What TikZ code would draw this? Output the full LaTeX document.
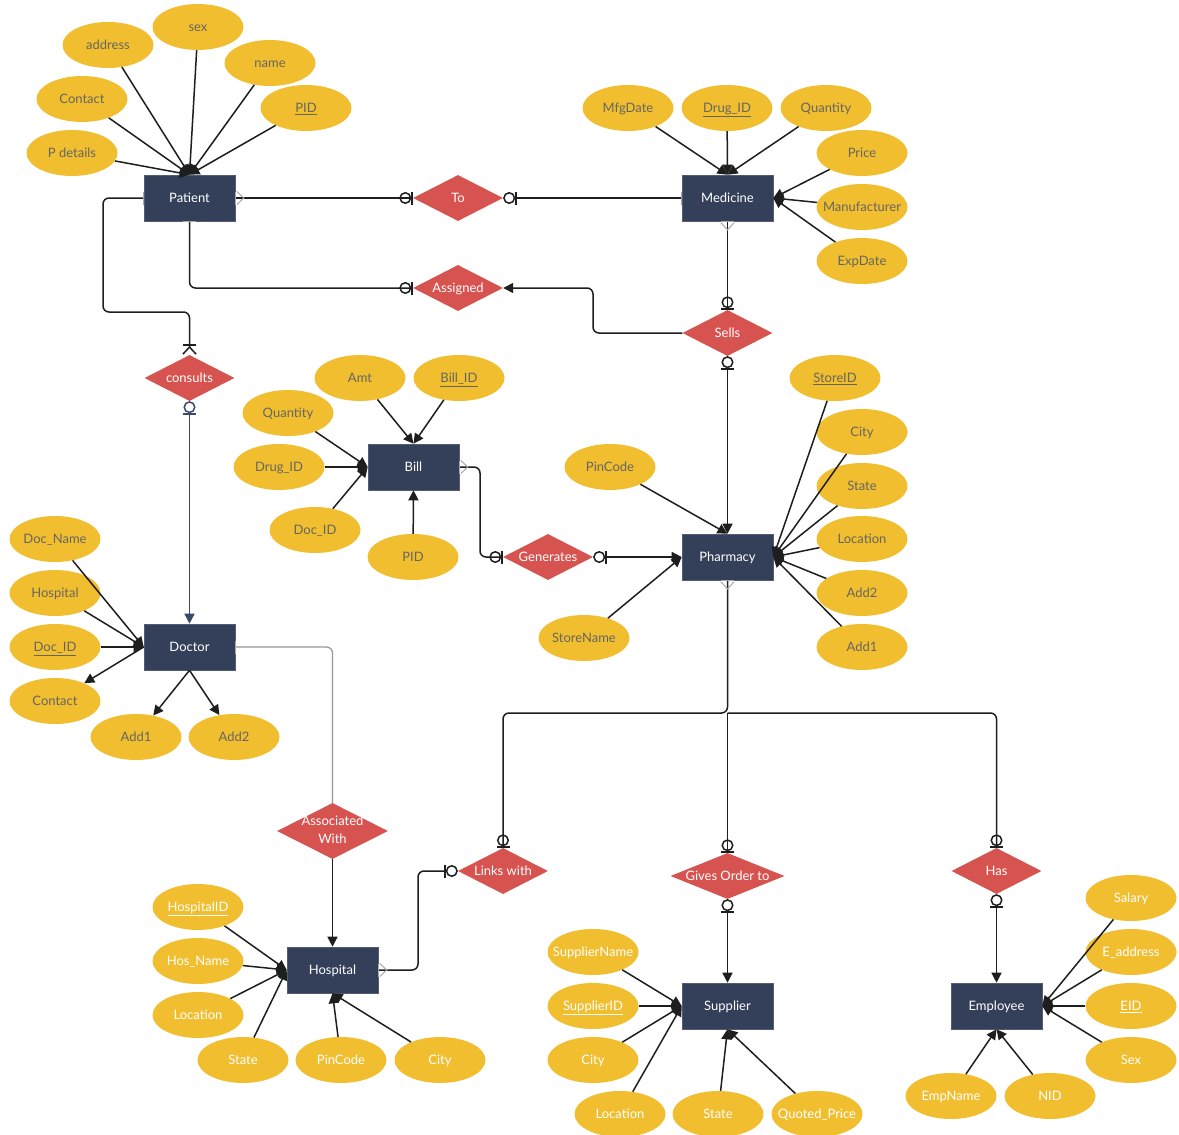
\documentclass[tikz,border=0pt]{standalone}
\usepackage{fontspec}
\setmainfont{Lato}
\usetikzlibrary{shapes.geometric,arrows.meta}
\definecolor{attrY}{HTML}{F1BE30}
\definecolor{relR}{HTML}{D65350}
\definecolor{entB}{HTML}{34405A}
\definecolor{txtG}{HTML}{666660}
\definecolor{lineK}{HTML}{1E1E1E}
\definecolor{markG}{HTML}{A8A8A8}
\definecolor{navyL}{HTML}{3B4A6A}
\newcommand\zt[1]{\makebox[0pt]{\raisebox{0pt}[9pt][0pt]{#1}}}
\newcommand\ztt[1]{\makebox[0pt]{#1}}
\begin{document}
\begin{tikzpicture}[x=1pt,y=-1pt,
  font=\fontsize{13}{16}\selectfont,
  attr/.style={ellipse, fill=attrY, minimum width=91pt, minimum height=46pt, inner sep=0pt, text=txtG},
  attrw/.style={attr, text=white},
  ent/.style={rectangle, fill=entB, draw=entB!85!white, line width=0.6pt, minimum width=91pt, minimum height=46pt, inner sep=0pt, text=white},
  rel/.style={diamond, fill=relR, minimum width=90pt, minimum height=46pt, inner sep=0pt, text=white},
  conn/.style={draw=lineK, line width=1.5pt},
  zoE/.tip={Circle[open,length=12pt,width=12pt,line width=1.5pt] Bar[width=13pt]},
  zoS/.tip={Bar[width=13pt] Circle[open,length=12pt,width=12pt,line width=1.5pt]},
  cfS/.tip={Straight Barb[reversed,length=7pt,width=13pt,color=markG,line width=1pt] Bar[width=13pt,color=markG,line width=1pt]},
  cfE/.tip={Bar[width=13pt] Straight Barb[reversed,length=7pt,width=13pt]},
  gbar/.tip={Bar[width=13pt,color=markG,line width=1pt]},
  tri/.tip={Triangle[length=10pt,width=10pt]},
  toent/.style={conn, -{tri}},
  ]
\fill[white] (0,0) rectangle (1179,1135);
\useasboundingbox (0,0) rectangle (1179,1135);

% ---------- entities
\node[ent] (pat) at (189.5,198) {\zt{Patient}};
\node[ent] (med) at (727.5,198) {\zt{Medicine}};
\node[ent] (bil) at (413.5,467) {\zt{Bill}};
\node[ent] (pha) at (727.5,557) {\zt{Pharmacy}};
\node[ent] (doc) at (189.5,647) {\zt{Doctor}};
\node[ent] (hos) at (332.5,970) {\zt{Hospital}};
\node[ent] (sup) at (727.5,1006) {\zt{Supplier}};
\node[ent] (emp) at (996.5,1006) {\zt{Employee}};

% ---------- relationships
\node[rel] (to) at (458,198) {\zt{To}};
\node[rel] (asg) at (458,288) {\zt{Assigned}};
\node[rel] (sel) at (727.5,333) {\zt{Sells}};
\node[rel] (con) at (189.5,378) {\zt{consults}};
\node[rel] (gen) at (548,557) {\zt{Generates}};
\node[rel, minimum width=111pt, minimum height=56pt] (asw) at (332.5,831) {\ztt{\begin{tabular}{@{}c@{}}Associated\\[2pt]With\end{tabular}}};
\node[rel] (lnk) at (503,871) {\zt{Links with}};
\node[rel, minimum width=114pt] (gvo) at (727.5,876) {\zt{Gives Order to}};
\node[rel] (has) at (996.5,871) {\zt{Has}};

% ---------- attributes: Patient
\node[attr] (p_adr) at (108,45) {\zt{address}};
\node[attr] (p_sex) at (198,27) {\zt{sex}};
\node[attr] (p_nam) at (270,63) {\zt{name}};
\node[attr] (p_con) at (82,99) {\zt{Contact}};
\node[attr] (p_pid) at (306,108) {\zt{\underline{PID}}};
\node[attr] (p_det) at (72,153) {\zt{P details}};
% Medicine
\node[attr] (m_mfg) at (628,108) {\zt{MfgDate}};
\node[attr] (m_did) at (727,108) {\zt{\underline{Drug\_ID}}};
\node[attr] (m_qty) at (826,108) {\zt{Quantity}};
\node[attr] (m_pri) at (862,153) {\zt{Price}};
\node[attr] (m_man) at (862,207) {\zt{Manufacturer}};
\node[attr] (m_exp) at (862,261) {\zt{ExpDate}};
% Bill
\node[attr] (b_amt) at (360,378) {\zt{Amt}};
\node[attr] (b_bid) at (459,378) {\zt{\underline{Bill\_ID}}};
\node[attr] (b_qty) at (288,413) {\zt{Quantity}};
\node[attr] (b_did) at (279,467) {\zt{Drug\_ID}};
\node[attr] (b_doc) at (315,530) {\zt{Doc\_ID}};
\node[attr] (b_pid) at (413,557) {\zt{PID}};
% Pharmacy
\node[attr] (f_sid) at (835,378) {\zt{\underline{StoreID}}};
\node[attr] (f_cit) at (862,432) {\zt{City}};
\node[attr] (f_sta) at (862,486) {\zt{State}};
\node[attr] (f_loc) at (862,539) {\zt{Location}};
\node[attr] (f_ad2) at (862,593) {\zt{Add2}};
\node[attr] (f_ad1) at (862,647) {\zt{Add1}};
\node[attr] (f_pin) at (610,467) {\zt{PinCode}};
\node[attr] (f_snm) at (584,638) {\zt{StoreName}};
% Doctor
\node[attr] (d_nam) at (55,539) {\zt{Doc\_Name}};
\node[attr] (d_hos) at (55,593) {\zt{Hospital}};
\node[attr] (d_did) at (55,647) {\zt{\underline{Doc\_ID}}};
\node[attr] (d_con) at (55,701) {\zt{Contact}};
\node[attr] (d_ad1) at (136,737) {\zt{Add1}};
\node[attr] (d_ad2) at (234,737) {\zt{Add2}};
% Hospital
\node[attrw] (h_hid) at (198,907) {\zt{\underline{HospitalID}}};
\node[attrw] (h_nam) at (198,961) {\zt{Hos\_Name}};
\node[attrw] (h_loc) at (198,1015) {\zt{Location}};
\node[attrw] (h_sta) at (243,1060) {\zt{State}};
\node[attrw] (h_pin) at (341,1060) {\zt{PinCode}};
\node[attrw] (h_cit) at (440,1060) {\zt{City}};
% Supplier
\node[attrw] (s_nam) at (593,952) {\zt{SupplierName}};
\node[attrw] (s_sid) at (593,1006) {\zt{\underline{SupplierID}}};
\node[attrw] (s_cit) at (593,1060) {\zt{City}};
\node[attrw] (s_loc) at (620,1114) {\zt{Location}};
\node[attrw] (s_sta) at (718,1114) {\zt{State}};
\node[attrw] (s_qpr) at (817,1114) {\zt{Quoted\_Price}};
% Employee
\node[attrw] (e_sal) at (1131,898) {\zt{Salary}};
\node[attrw] (e_adr) at (1131,952) {\zt{E\_address}};
\node[attrw] (e_eid) at (1131,1006) {\zt{\underline{EID}}};
\node[attrw] (e_sex) at (1131,1060) {\zt{Sex}};
\node[attrw] (e_nam) at (951,1096) {\zt{EmpName}};
\node[attrw] (e_nid) at (1050,1096) {\zt{NID}};

% ---------- attribute connectors
\foreach \a in {p_adr,p_sex,p_nam,p_con,p_pid,p_det} \draw[toent] (\a) -- (pat.north);
\foreach \a in {m_mfg,m_did,m_qty} \draw[toent] (\a) -- (med.north);
\foreach \a in {m_pri,m_man,m_exp} \draw[toent] (\a) -- (med.east);
\foreach \a in {b_amt,b_bid} \draw[toent] (\a) -- (bil.north);
\foreach \a in {b_qty,b_did,b_doc} \draw[toent] (\a) -- (bil.west);
\draw[toent] (b_pid) -- (bil.south);
\foreach \a in {f_sid,f_cit,f_sta,f_loc,f_ad2,f_ad1} \draw[toent] (\a) -- (pha.east);
\draw[toent] (f_pin) -- (pha.north);
\draw[toent] (f_snm) -- (pha.west);
\foreach \a in {d_nam,d_hos,d_did} \draw[toent] (\a) -- (doc.west);
\draw[toent] (doc.west) -- (d_con);
\draw[toent] (doc.south) -- (d_ad1);
\draw[toent] (doc.south) -- (d_ad2);
\foreach \a in {h_hid,h_nam,h_loc,h_sta} \draw[toent] (\a) -- (hos.west);
\foreach \a in {h_pin,h_cit} \draw[toent] (\a) -- (hos.south);
\foreach \a in {s_nam,s_sid,s_cit,s_loc} \draw[toent] (\a) -- (sup.west);
\foreach \a in {s_sta,s_qpr} \draw[toent] (\a) -- (sup.south);
\foreach \a in {e_sal,e_adr,e_eid,e_sex} \draw[toent] (\a) -- (emp.east);
\foreach \a in {e_nam,e_nid} \draw[toent] (\a) -- (emp.south);

% ---------- relationship connectors
\draw[conn, {cfS}-{zoE}] (pat.east) -- (to.west);
\draw[conn, {zoS}-{gbar}] (to.east) -- (med.west);
\draw[conn, rounded corners=6pt, {gbar}-{zoE}] (pat.south) |- (asg.west);
\draw[conn, rounded corners=6pt, -{tri}] (sel.west) -- (593,333) -- (593,288) -- (asg.east);
\draw[conn, {cfS}-{zoE}] (med.south) -- (sel.north);
\draw[conn, {zoS}-{tri}] (sel.south) -- (pha.north);
\draw[conn, rounded corners=6pt, {gbar}-{cfE}] (pat.west) -- (103,198) |- (189.5,312) -- (con.north);
\draw[conn, draw=navyL, {zoS}-{tri}] (con.south) -- (doc.north);
\draw[conn, rounded corners=6pt, {cfS}-{zoE}] (bil.east) -- (480,467) |- (gen.west);
\draw[conn, {zoS}-{tri}] (gen.east) -- (pha.west);
\coordinate (jn) at (727.5,713);
\draw[conn, rounded corners=6pt, {cfS}-{zoE}] (pha.south) -- (jn) -| (lnk.north);
\draw[conn, -{zoE}] (jn) -- (gvo.north);
\draw[conn, rounded corners=6pt, -{zoE}] (jn) -| (has.north);
\draw[conn, rounded corners=6pt, {zoS}-{cfS}] (lnk.west) -- (418,871) |- (hos.east);
\draw[conn, draw=markG!90!black, line width=1.2pt, rounded corners=6pt, {gbar}-] (doc.east) -| (asw.north);
\draw[conn, -{tri}] (asw.south) -- (hos.north);
\draw[conn, {zoS}-{tri}] (gvo.south) -- (sup.north);
\draw[conn, {zoS}-{tri}] (has.south) -- (emp.north);
\end{tikzpicture}
\end{document}
